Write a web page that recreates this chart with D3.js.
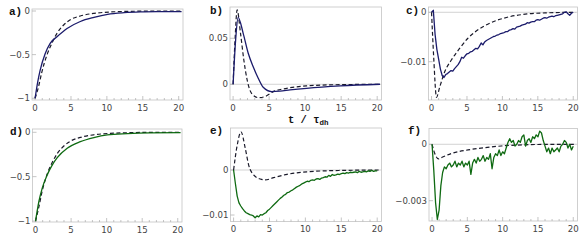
<!DOCTYPE html>
<html>
<head>
<meta charset="utf-8">
<script src="https://cdn.jsdelivr.net/npm/d3@7"></script>
<style>
  body { margin: 0; background: #fff; }
  svg { display: block; }
  .tick-label { font-family: "DejaVu Sans", sans-serif; font-size: 8.6px; fill: #444; }
  .panel-label { font-family: "Liberation Mono", monospace; font-weight: bold; font-size: 11px; fill: #111; }
</style>
</head>
<body>
<script>
// ---- data ----
const xTicks = [0, 5, 10, 15, 20]
const xMinor = d3.range(0, 21, 1)

// a) blue, smooth
const aSolidT = [0, 0.35, 0.7, 1.4, 2.1, 3.05, 4.45, 6.3, 8.2, 10.1, 12.4, 14.7, 17, 20.4]
const aSolidV = [-1, -0.82, -0.68, -0.49, -0.37, -0.295, -0.2, -0.12, -0.073, -0.038, -0.019, -0.01, -0.007, -0.006]
const aDashT = [0, 0.47, 0.94, 1.64, 2.34, 3.05, 3.98, 4.9, 6.3, 8.2, 10.5, 13, 16, 20.4]
const aDashV = [-1, -0.87, -0.70, -0.506, -0.37, -0.256, -0.16, -0.10, -0.057, -0.027, -0.011, -0.004, -0.001, 0]
const aYTicks = [0, -0.5, -1]

// b) blue, smooth
const bSolidT = [0, 0.35, 0.7, 1.4, 2.1, 2.79, 3.49, 4.18, 5.35, 6.5, 7.9, 10.2, 14.9, 20.4]
const bSolidV = [0, 0.048, 0.0728, 0.0554, 0.0337, 0.019, 0.0065, -0.0033, -0.008, -0.0075, -0.0062, -0.0044, -0.0018, 0]
const bDashT = [0, 0.28, 0.56, 1.03, 1.49, 1.95, 2.56, 3.49, 4.42, 5.58, 7.45, 10.2, 13, 20.4]
const bDashV = [0, 0.05, 0.0808, 0.0554, 0.0264, 0.0047, -0.0098, -0.0145, -0.0134, -0.008, -0.0044, -0.0018, -0.0007, 0]
const bYTicks = [0, 0.05]

// c) blue, noisy solid sampled every 0.25
const cSolidV = [0, 0.0004, -0.0045, -0.0075, -0.0095, -0.0115, -0.0128, -0.0132, -0.0126, -0.0124,
  -0.0121, -0.0118, -0.0119, -0.0114, -0.0110, -0.0106, -0.0100, -0.0091, -0.0093, -0.0088,
  -0.0084, -0.0083, -0.0080, -0.0079, -0.0076, -0.0073, -0.0074, -0.0069, -0.0062, -0.0066,
  -0.0060, -0.0057, -0.0055, -0.0053, -0.0051, -0.0049, -0.0048, -0.0046, -0.0045, -0.0043,
  -0.0042, -0.0041, -0.0039, -0.0039, -0.0036, -0.0035, -0.0033, -0.0034, -0.0030, -0.0029,
  -0.0028, -0.0026, -0.0025, -0.0024, -0.0021, -0.0022, -0.0020, -0.0019, -0.0019, -0.0016,
  -0.0015, -0.0016, -0.0014, -0.0012, -0.0011, -0.0012, -0.0010, -0.0009, -0.0008, -0.0009,
  -0.0007, -0.0006, -0.0005, -0.0004, -0.0003, 0.0000, 0.0001, -0.0003, -0.0006, -0.0002, 0.0000]
const cDashT = [0, 0.3, 0.7, 1.16, 1.87, 2.8, 3.97, 5.1, 6.5, 8.4, 10.7, 13.5, 16.5, 20.3]
const cDashV = [0, -0.009, -0.0172, -0.0151, -0.012, -0.00966, -0.0073, -0.0053, -0.0036, -0.0021, -0.001, -0.00034, -0.0001, 0]
const cYTicks = [0, -0.01]

// d) green, smooth
const dSolidT = [0, 0.47, 0.94, 1.64, 2.34, 3.05, 4.45, 6.3, 8.2, 10.1, 12.9, 16, 20.4]
const dSolidV = [-1, -0.78, -0.63, -0.48, -0.37, -0.286, -0.18, -0.106, -0.06, -0.03, -0.015, -0.006, -0.003]
const dDashT = [0, 0.47, 0.94, 1.64, 2.34, 3.05, 3.98, 4.9, 6.3, 8.2, 10.5, 13, 16, 20.4]
const dDashV = [-1, -0.84, -0.66, -0.47, -0.34, -0.24, -0.155, -0.10, -0.058, -0.028, -0.012, -0.005, -0.001, 0]
const dYTicks = [0, -0.5, -1]

// e) green, noisy solid sampled every 0.25
const eSolidV = [0, -0.0030, -0.0058, -0.0073, -0.0080, -0.0086, -0.0091, -0.0095, -0.0097, -0.0099,
  -0.0100, -0.0102, -0.0106, -0.0102, -0.0104, -0.0099, -0.0100, -0.0097, -0.0095, -0.0090,
  -0.0087, -0.0083, -0.0079, -0.0075, -0.0071, -0.0067, -0.0063, -0.0060, -0.0056, -0.0054,
  -0.0050, -0.0049, -0.0046, -0.0044, -0.0041, -0.0038, -0.0036, -0.0034, -0.0031, -0.0029,
  -0.0027, -0.0025, -0.0026, -0.0023, -0.0022, -0.0023, -0.0020, -0.0019, -0.0021, -0.0018,
  -0.0017, -0.0015, -0.0016, -0.0012, -0.0014, -0.0010, -0.0012, -0.0011, -0.0009, -0.0010,
  -0.0008, -0.0007, -0.0008, -0.0006, -0.0007, -0.0005, -0.0006, -0.0005, -0.0004, -0.0006,
  -0.0003, -0.0005, -0.0004, -0.0003, -0.0004, -0.0002, -0.0003, -0.0001, -0.0003, -0.0002, -0.0002]
const eDashT = [0, 0.47, 1.03, 1.63, 2.1, 2.79, 3.72, 4.42, 5.58, 7.45, 10.2, 14.9, 20.3]
const eDashV = [0, 0.0052, 0.0085, 0.0048, 0.0011, -0.0011, -0.002, -0.0022, -0.0017, -0.00096, -0.0004, -0.0001, 0]
const eYTicks = [0, -0.01]

// f) green, noisy solid sampled every 0.25
const fSolidV = [0, -0.0014, -0.0031, -0.0040, -0.0035, -0.0022, -0.0015, -0.0012, -0.0013, -0.0011,
  -0.0010, -0.0012, -0.0011, -0.0009, -0.0012, -0.0010, -0.0011, -0.0009, -0.0012, -0.0010,
  -0.0011, -0.0009, -0.0016, -0.0010, -0.0008, -0.0010, -0.0007, -0.0009, -0.0008, -0.0006,
  -0.0009, -0.0007, -0.0008, -0.0005, -0.0013, -0.0007, -0.0005, -0.0006, -0.0003, -0.0006,
  -0.0004, -0.0005, -0.0002, 0.0001, 0.0003, 0.0001, 0.0002, -0.0001, 0.0000, 0.0002,
  0.0001, 0.0004, 0.0005, -0.0001, 0.0002, 0.0003, 0.0001, 0.0004, 0.0003, 0.0005,
  0.0004, 0.0007, 0.0006, 0.0002, -0.0001, -0.0004, -0.0002, -0.0005, -0.0002, -0.0004,
  -0.0003, -0.0002, -0.0004, -0.0001, 0.0000, 0.0002, 0.0001, -0.0002, 0.0000, -0.0003, -0.0001]
const fDashT = [0, 0.4, 0.93, 1.5, 2.8, 5.1, 7.45, 9.8, 12.1, 15, 20.3]
const fDashV = [0, -0.0005, -0.00078, -0.00068, -0.00048, -0.0003, -0.00018, -0.00009, -0.00004, -0.00001, 0]
const fYTicks = [0, -0.003]

const noisyT = d3.range(0, 20.001, 0.25)

const blue = "#1b1b6b"
const green = "#0f6a12"
const dashColor = "#1a1a2a"

const panels = [
  {label: "a)", lx: 9, ly: 15, box: [32, 9, 183, 100], y: [-1.02, 0.023], yt: aYTicks, zero: false,
    color: blue, solidT: aSolidT, solidV: aSolidV, dashT: aDashT, dashV: aDashV, smooth: true},
  {label: "b)", lx: 210, ly: 14, box: [230, 7, 381.5, 100], y: [-0.0171, 0.084], yt: bYTicks, zero: true,
    color: blue, solidT: bSolidT, solidV: bSolidV, dashT: bDashT, dashV: bDashV, smooth: true},
  {label: "c)", lx: 406, ly: 14, box: [428.5, 7, 577.5, 100], y: [-0.01775, 0.00107], yt: cYTicks, zero: true,
    color: blue, solidT: noisyT, solidV: cSolidV, dashT: cDashT, dashV: cDashV, smooth: false},
  {label: "d)", lx: 10, ly: 135, box: [32.5, 129, 182, 222], y: [-1.011, 0.037], yt: dYTicks, zero: false,
    color: green, solidT: dSolidT, solidV: dSolidV, dashT: dDashT, dashV: dDashV, smooth: true},
  {label: "e)", lx: 210, ly: 134, box: [230.5, 128, 381.5, 221.5], y: [-0.01144, 0.00933], yt: eYTicks, zero: true,
    color: green, solidT: noisyT, solidV: eSolidV, dashT: eDashT, dashV: eDashV, smooth: false},
  {label: "f)", lx: 408, ly: 134, box: [429, 128.5, 577.5, 221], y: [-0.00408, 0.00084], yt: fYTicks, zero: true,
    color: green, solidT: noisyT, solidV: fSolidV, dashT: fDashT, dashV: fDashV, smooth: false}
]

const svg = d3.select("body").append("svg")
  .attr("width", 581)
  .attr("height", 241)

const fmt = v => (v < 0 ? "\u2212" : "") + String(Math.abs(v))

function drawPanel(p) {
  const [x0, y0, x1, y1] = p.box
  const xs = d3.scaleLinear().domain([-0.43, 20.6]).range([x0, x1])
  const ys = d3.scaleLinear().domain(p.y).range([y1, y0])
  const g = svg.append("g")

  // frame
  g.append("rect")
    .attr("x", x0).attr("y", y0)
    .attr("width", x1 - x0).attr("height", y1 - y0)
    .attr("fill", "none").attr("stroke", "#c4c4c4").attr("stroke-width", 0.8)

  if (p.zero) {
    g.append("line")
      .attr("x1", x0).attr("x2", x1)
      .attr("y1", ys(0)).attr("y2", ys(0))
      .attr("stroke", "#c8c8c8").attr("stroke-width", 0.8)
  }

  // x ticks (inward)
  g.selectAll(".xminor").data(xMinor).enter().append("line")
    .attr("x1", d => xs(d)).attr("x2", d => xs(d))
    .attr("y1", y1).attr("y2", d => xTicks.includes(d) ? y1 - 4 : y1 - 2)
    .attr("stroke", "#aaa").attr("stroke-width", 0.7)
  g.selectAll(".xlab").data(xTicks).enter().append("text")
    .attr("class", "tick-label")
    .attr("x", d => xs(d)).attr("y", y1 + 10.5)
    .attr("text-anchor", "middle")
    .text(d => d)

  // y ticks
  g.selectAll(".ytick").data(p.yt).enter().append("line")
    .attr("x1", x0).attr("x2", x0 + 4)
    .attr("y1", d => ys(d)).attr("y2", d => ys(d))
    .attr("stroke", "#aaa").attr("stroke-width", 0.7)
  g.selectAll(".ylab").data(p.yt).enter().append("text")
    .attr("class", "tick-label")
    .attr("x", x0 - 2).attr("y", d => ys(d) + 3)
    .attr("text-anchor", "end")
    .text(d => fmt(d))

  const clip = "clip" + p.label[0]
  svg.append("clipPath").attr("id", clip).append("rect")
    .attr("x", x0).attr("y", y0 - 2).attr("width", x1 - x0).attr("height", y1 - y0 + 2)

  const line = d3.line()
    .x(d => xs(d[0]))
    .y(d => ys(d[1]))

  const dashLine = line.curve(d3.curveMonotoneX)
  g.append("path")
    .datum(d3.zip(p.dashT, p.dashV))
    .attr("d", dashLine)
    .attr("fill", "none")
    .attr("stroke", dashColor)
    .attr("stroke-width", 1.2)
    .attr("stroke-dasharray", "4,2.5")
    .attr("clip-path", `url(#${clip})`)

  const solidLine = d3.line()
    .x(d => xs(d[0]))
    .y(d => ys(d[1]))
    .curve(p.smooth ? d3.curveMonotoneX : d3.curveLinear)
  g.append("path")
    .datum(d3.zip(p.solidT, p.solidV))
    .attr("d", solidLine)
    .attr("fill", "none")
    .attr("stroke", p.color)
    .attr("stroke-width", 1.3)
    .attr("stroke-linejoin", "round")
    .attr("clip-path", `url(#${clip})`)

  g.append("text")
    .attr("class", "panel-label")
    .attr("x", p.lx).attr("y", p.ly)
    .text(p.label)
}

panels.forEach(drawPanel)

// shared time axis title
const title = svg.append("text")
  .attr("x", 288).attr("y", 122.5)
  .attr("font-family", "Liberation Mono, monospace")
  .attr("font-weight", "bold")
  .attr("font-size", 10.5)
  .attr("fill", "#111")
title.append("tspan").text("t / \u03c4")
title.append("tspan").attr("font-size", 7.5).attr("dy", 2.5).text("dh")
</script>
</body>
</html>
